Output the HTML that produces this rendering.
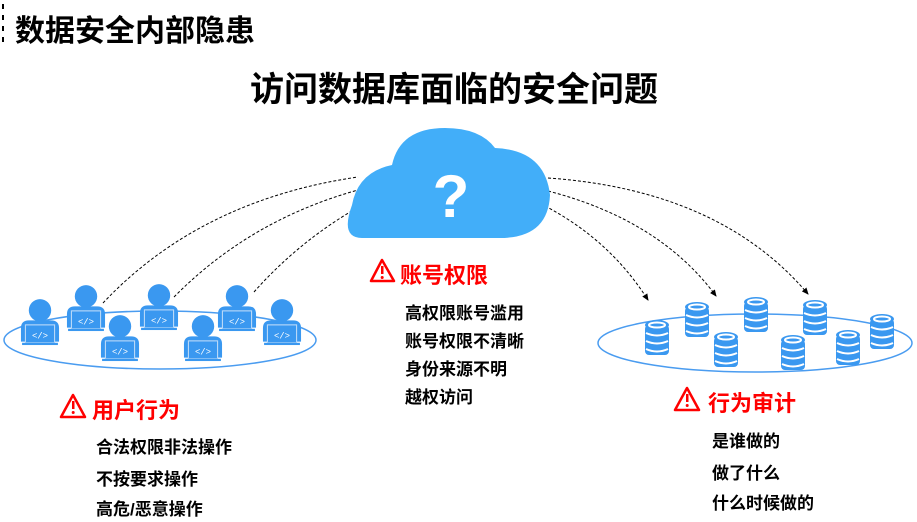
<!DOCTYPE html>
<html><head><meta charset="utf-8"><style>
body{margin:0;background:#fff;width:917px;height:522px;overflow:hidden;position:relative;font-family:"Liberation Sans","Noto Sans CJK SC",sans-serif}
.t{position:absolute;font-weight:bold;white-space:nowrap;color:#000}
.r{color:#f00;font-size:22px}
.i{font-size:17px}
</style></head><body>
<svg width="917" height="522" style="position:absolute;left:0;top:0">
<defs>
<marker id="a" markerWidth="8" markerHeight="8" refX="6" refY="4" orient="auto"><path d="M0,1 L7,4 L0,7 z" fill="#000"/></marker>
<g id="u0"><circle cx="0" cy="-14" r="10" fill="#3a98f0"/><path d="M-17,14 L-17,2 Q-17,-5 -10,-5 L10,-5 Q17,-5 17,2 L17,14 z" fill="#3a98f0"/><rect x="-13" y="-1" width="26" height="16" fill="#3a98f0" stroke="#b8d8f8" stroke-width="1"/><rect x="-16" y="15" width="32" height="2" fill="#3a98f0"/><text x="0" y="11" font-size="8" fill="#fff" text-anchor="middle" font-family="Liberation Mono">&lt;/&gt;</text></g>
<g id="u"><use href="#u0" transform="scale(1.12)"/></g>
<g id="d"><g fill="#3a98f0"><ellipse cx="0" cy="-13" rx="12" ry="5"/><rect x="-12" y="-13" width="24" height="30" rx="4"/></g><g fill="none" stroke="#fff" stroke-width="2"><ellipse cx="0" cy="-13" rx="8" ry="2.5"/><path d="M-11,-5 Q0,0 11,-5 M-11,3 Q0,8 11,3 M-11,11 Q0,16 11,11"/></g></g>
</defs>
<path d="M3,4 V44" stroke="#000" stroke-width="2" stroke-dasharray="5,6"/>
<ellipse cx="160" cy="340" rx="156" ry="29" fill="none" stroke="#4a9cf0" stroke-width="1.5"/>
<ellipse cx="755" cy="343" rx="157" ry="29" fill="none" stroke="#4a9cf0" stroke-width="1.5"/>
<g fill="none" stroke="#000" stroke-width="1" stroke-dasharray="3,2">
<path d="M103,303 Q200,200 358,177"/>
<path d="M174,297 Q250,220 358,190"/>
<path d="M254,292 Q300,240 362,205"/>
<path d="M548,178 Q720,190 808,294" marker-end="url(#a)"/>
<path d="M548,191 Q660,220 716,296" marker-end="url(#a)"/>
<path d="M545,206 Q610,240 648,300" marker-end="url(#a)"/>
</g>
<use href="#u" x="86" y="312"/><use href="#u" x="159" y="311"/><use href="#u" x="237" y="312"/>
<use href="#u" x="40" y="326"/><use href="#u" x="282" y="326"/>
<use href="#u" x="120" y="342"/><use href="#u" x="203" y="342"/>
<use href="#d" x="697" y="320"/><use href="#d" x="756" y="315"/><use href="#d" x="815" y="318"/>
<use href="#d" x="657" y="338"/><use href="#d" x="882" y="332"/>
<use href="#d" x="726" y="350"/><use href="#d" x="793" y="353"/><use href="#d" x="848" y="348"/>
<path d="M362,238 Q340,238 352,205 Q358,172 392,165 Q400,128 445,128 Q480,128 495,148 Q545,150 550,195 Q548,238 500,238 z" fill="#42aef9"/>
<text x="451" y="217" font-size="60" font-weight="bold" fill="#fff" text-anchor="middle" font-family="Liberation Sans">?</text>
<g fill="none" stroke="#f00" stroke-width="2.5" stroke-linejoin="round">
<path d="M382,260 L371,281 L394,281 z"/><path d="M73,395 L61,417 L85,417 z"/><path d="M687,388 L675,410 L699,410 z"/>
</g>
<g fill="#f00"><rect x="381" y="266" width="2.5" height="8"/><circle cx="382.2" cy="277.5" r="1.5"/>
<rect x="72" y="401" width="2.5" height="8"/><circle cx="73.2" cy="412.5" r="1.5"/>
<rect x="686" y="394" width="2.5" height="8"/><circle cx="687.2" cy="405.5" r="1.5"/></g>
</svg>
<div class="t" style="left:15px;top:6px;font-size:30px">数据安全内部隐患</div>
<div class="t" style="left:250px;top:62px;font-size:34px">访问数据库面临的安全问题</div>
<div class="t r" style="left:400px;top:258px">账号权限</div>
<div class="t i" style="left:405px;top:299px">高权限账号滥用</div>
<div class="t i" style="left:405px;top:327px">账号权限不清晰</div>
<div class="t i" style="left:405px;top:355px">身份来源不明</div>
<div class="t i" style="left:405px;top:383px">越权访问</div>
<div class="t r" style="left:92px;top:393px">用户行为</div>
<div class="t i" style="left:96px;top:433px">合法权限非法操作</div>
<div class="t i" style="left:96px;top:465px">不按要求操作</div>
<div class="t i" style="left:96px;top:495px">高危/恶意操作</div>
<div class="t r" style="left:708px;top:386px">行为审计</div>
<div class="t i" style="left:712px;top:427px">是谁做的</div>
<div class="t i" style="left:712px;top:459px">做了什么</div>
<div class="t i" style="left:712px;top:489px">什么时候做的</div>
</body></html>
